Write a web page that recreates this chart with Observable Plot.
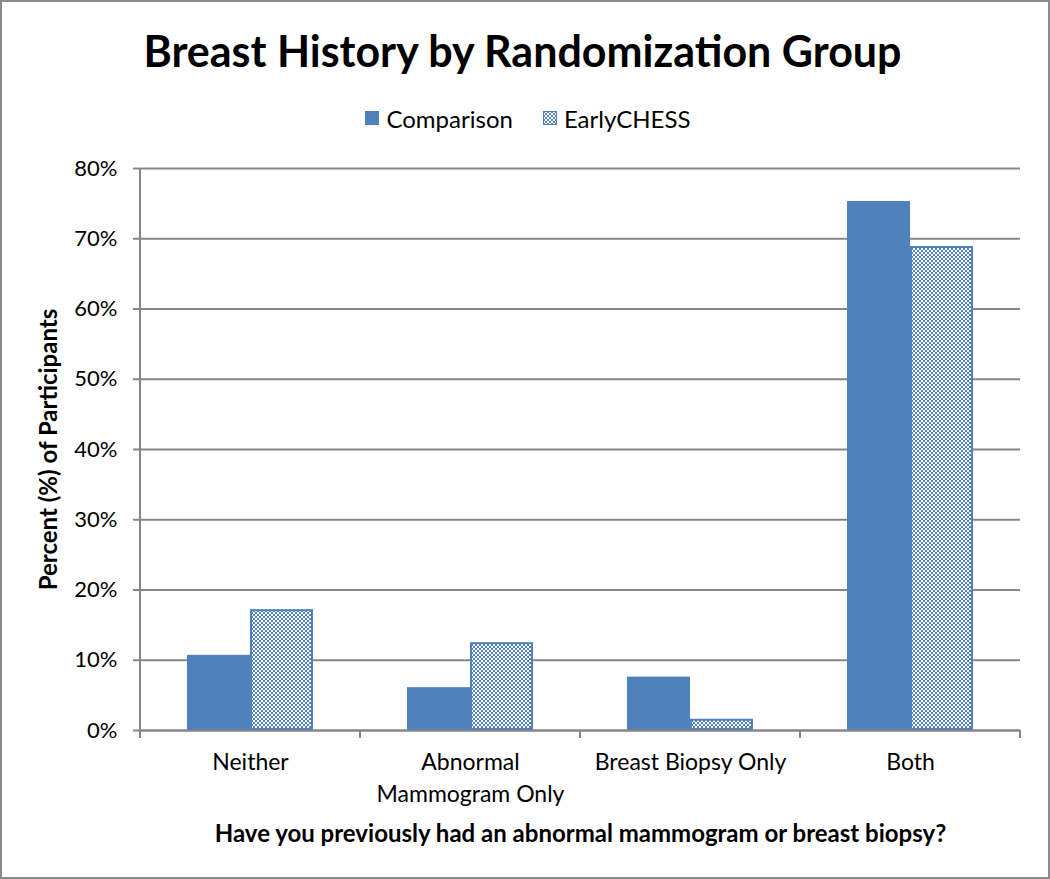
<!DOCTYPE html>
<html>
<head>
<meta charset="utf-8">
<script src="https://cdn.jsdelivr.net/npm/d3@7"></script>
<script src="https://cdn.jsdelivr.net/npm/@observablehq/plot@0.6"></script>
<style>
  html, body { margin: 0; padding: 0; background: #fff; }
  #frame {
    position: relative; width: 1046px; height: 875px;
    border: 2px solid #8c8c8c; background: #fff; overflow: hidden;
    font-family: Lato, "Open Sans", sans-serif; color: #000;
  }
  #title {
    height: 94px; line-height: 98px; text-align: center;
    font-size: 43px; font-weight: bold; padding-right: 5px;
  }
  #legend {
    height: 44px; display: flex; justify-content: center; align-items: center;
    font-size: 24px; gap: 30px; padding-left: 6px;
  }
  #legend .item { display: flex; align-items: center; gap: 7px; }
  #legend svg { display: block; }
  #chart svg { display: block; overflow: visible; }
  g[aria-label="y-axis label"] text { font-weight: bold; font-size: 24px; }
  g[aria-label="fx-axis label"] text { font-weight: bold; font-size: 24px; }
  g[aria-label="y-axis tick label"] text { font-size: 22px; }
  g[aria-label="fx-axis tick label"] text { font-size: 23px; }
</style>
</head>
<body>
<div id="frame">
  <div id="title">Breast History by Randomization Group</div>
  <div id="legend"></div>
  <div id="chart"></div>
</div>
<script>
// ---- data ----
const categories = ["Neither", "Abnormal Mammogram Only", "Breast Biopsy Only", "Both"];
const categoryLabels = ["Neither", "Abnormal\nMammogram Only", "Breast Biopsy Only", "Both"];
const series = ["Comparison", "EarlyCHESS"];
const comparison = [10.7, 6.1, 7.6, 75.3];
const earlyChess = [17.2, 12.5, 1.6, 68.9];
const yTicks = [0, 10, 20, 30, 40, 50, 60, 70, 80];
const yLabel = "Percent (%) of Participants";
const xLabel = "Have you previously had an abnormal mammogram or breast biopsy?";

const blue = "#4F81BD";
const grid = "#868686";

const rows = categories.flatMap((c, i) => [
  {category: c, group: series[0], value: comparison[i]},
  {category: c, group: series[1], value: earlyChess[i]}
]);
const labelOf = new Map(categories.map((c, i) => [c, categoryLabels[i]]));

const patternDefs = (id) => `<defs><pattern id="${id}" width="4" height="4" patternUnits="userSpaceOnUse">
  <rect width="4" height="4" fill="#ffffff"/>
  <rect x="0" y="0" width="2" height="2" fill="${blue}"/>
  <rect x="2" y="2" width="2" height="2" fill="${blue}"/>
</pattern></defs>`;

// legend
const legend = document.getElementById("legend");
series.forEach((s, i) => {
  const item = document.createElement("div");
  item.className = "item";
  const sw = i === 0
    ? `<svg width="14" height="14"><rect width="14" height="14" fill="${blue}"/></svg>`
    : `<svg width="14" height="14">${patternDefs("legpat")}<rect x="0.5" y="0.5" width="13" height="13" fill="url(#legpat)" stroke="${blue}" stroke-width="1"/></svg>`;
  item.innerHTML = sw + `<span>${s}</span>`;
  legend.appendChild(item);
});

const svgTop = 138;
const H = 875 - svgTop;

const chart = Plot.plot({
  width: 1046,
  height: H,
  marginLeft: 137,
  marginRight: 28,
  marginTop: 28,
  marginBottom: 147,
  style: {fontFamily: "Lato, 'Open Sans', sans-serif", fontSize: "22px", color: "#000", overflow: "visible"},
  fx: {domain: categories, padding: 0},
  x: {domain: series, paddingInner: 0, paddingOuter: 0.746, axis: null},
  y: {domain: [0, 80], axis: null},
  marks: [
    Plot.gridY(yTicks, {stroke: grid, strokeOpacity: 1, strokeWidth: 2}),
    Plot.barY(rows.filter(d => d.group === series[0]), {fx: "category", x: "group", y: "value", fill: blue, inset: 0}),
    Plot.barY(rows.filter(d => d.group === series[1]), {fx: "category", x: "group", y: "value", fill: "url(#barpat)", stroke: blue, strokeWidth: 2, inset: 1}),
    Plot.ruleY([0], {stroke: grid, strokeWidth: 2}),
    Plot.axisY({ticks: yTicks, tickFormat: d => d + "%", tickSize: 7, tickPadding: 16, stroke: grid, strokeWidth: 2,
      label: yLabel, labelAnchor: "center", labelOffset: 101, labelArrow: "none"}),
    Plot.axisFx({anchor: "bottom", tickSize: 0, tickPadding: 16, tickFormat: d => labelOf.get(d), lineHeight: 1.42,
      label: xLabel, labelAnchor: "center", labelOffset: 111, labelArrow: "none"})
  ]
});

// pattern defs for the bars
chart.insertAdjacentHTML("afterbegin", patternDefs("barpat"));

// y-axis line and category boundary ticks, positioned by Plot's scales
const fx = chart.scale("fx");
const y = chart.scale("y");
const sel = d3.select(chart);
const y0 = y.apply(0), yTop = y.apply(80);
const left = fx.apply(categories[0]);
sel.append("line").attr("x1", left).attr("x2", left).attr("y1", yTop).attr("y2", y0)
  .attr("stroke", grid).attr("stroke-width", 2);
const edges = categories.map(c => fx.apply(c)).concat([fx.apply(categories[categories.length - 1]) + fx.step]);
sel.append("g").selectAll("line").data(edges).join("line")
  .attr("x1", d => d).attr("x2", d => d).attr("y1", y0).attr("y2", y0 + 8)
  .attr("stroke", grid).attr("stroke-width", 2);

document.getElementById("chart").appendChild(chart);
</script>
</body>
</html>
